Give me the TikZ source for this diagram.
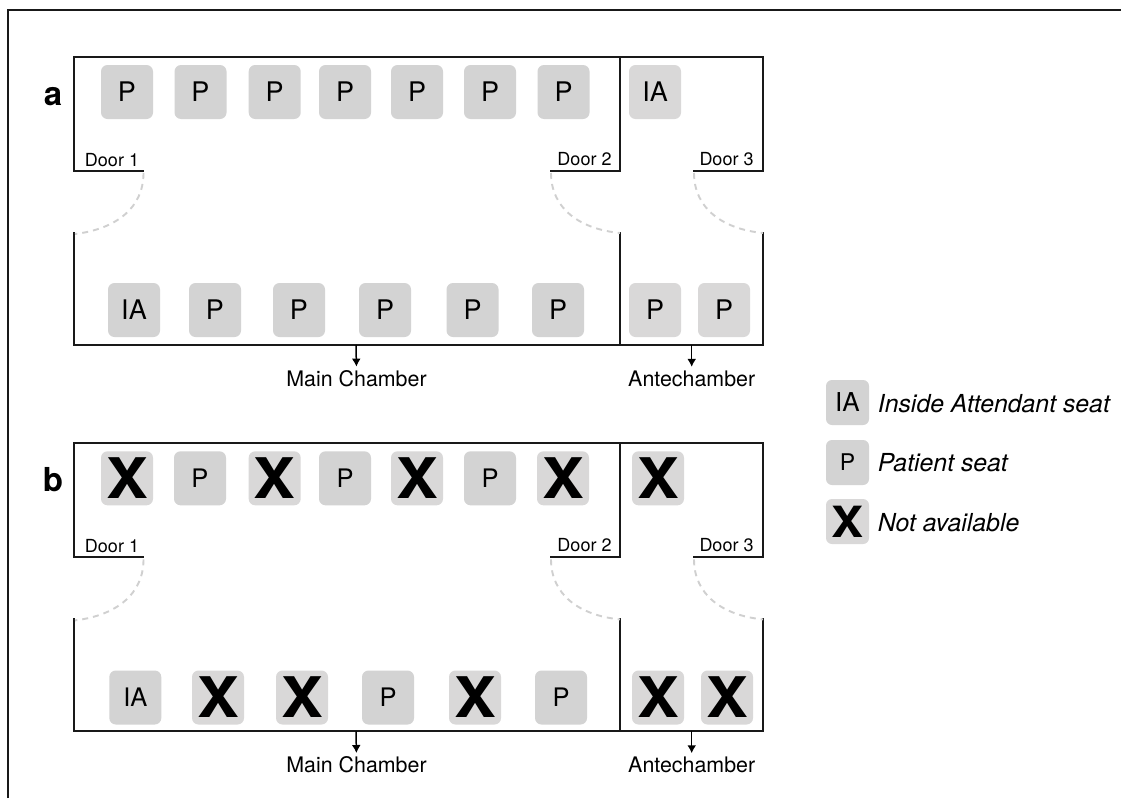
\documentclass[tikz,border=0pt]{standalone}
\usepackage{fontspec}
\setmainfont{TeX Gyre Heros}
\newfontfamily\xmarkfont[FakeStretch=1.12]{TeX Gyre Heros}
\usetikzlibrary{arrows.meta}
\definecolor{seatdark}{HTML}{D3D3D3}
\definecolor{seatlight}{HTML}{D9D8D8}
\definecolor{doorgray}{HTML}{D0D0D0}
\tikzset{
  seat/.style={fill=seatdark,rounded corners=6.5pt,minimum width=52pt,minimum height=54pt,inner sep=0pt,font=\fontsize{25.5}{25.5}\selectfont},
  seata/.style={seat,font=\fontsize{27}{27}\selectfont},
  seatl/.style={seata,fill=seatlight},
  xseat/.style={seat,fill=seatlight,font=\fontsize{56}{56}\selectfont\xmarkfont\bfseries},
  legendbox/.style={seat,minimum width=43pt,minimum height=45pt,rounded corners=6pt},
  legendtext/.style={anchor=west,inner sep=0pt,font=\fontsize{24.8}{24.8}\selectfont\itshape},
  wall/.style={line width=1.9pt,black!90,line cap=rect,line join=miter},
  doorarc/.style={line width=1.9pt,doorgray,dash pattern=on 6pt off 5pt},
  doorlabel/.style={anchor=base,inner sep=0pt,font=\fontsize{18}{18}\selectfont},
  chamberlabel/.style={inner sep=0pt,font=\fontsize{21.4}{21.4}\selectfont},
  panellabel/.style={anchor=base,inner sep=0pt,font=\fontsize{33}{33}\selectfont\bfseries},
  pointer/.style={line width=1.5pt,-{Latex[length=8pt,width=9pt]},shorten >=3.5pt}
}
\newcommand{\chamberwalls}[1]{%
  \draw[wall] (143.5,171) -- (74,171) -- (74,57) -- (763,57) -- (763,171) -- (694,171);
  \draw[wall] (551,171) -- (620,171) -- (620,57);
  \draw[wall] (74,233) -- (74,345) -- (763,345) -- (763,233);
  \draw[wall] (620,233) -- (620,345);
  \draw[doorarc] (143.5,173) .. controls (143.5,208) and (116,229) .. (75,234);
  \draw[doorarc] (551,173) .. controls (551,208) and (579,229) .. (620,233);
  \draw[doorarc] (694,173) .. controls (694,208) and (722,229) .. (763,233);
  \node[doorlabel] (#1d1) at (112,166.5) {Door 1};
  \node[doorlabel] (#1d2) at (584.5,165.5) {Door 2};
  \node[doorlabel] (#1d3) at (726.5,165) {Door 3};
  \coordinate (#1mw) at (356,345);
  \coordinate (#1aw) at (691.7,345);
  \node[chamberlabel] (#1mt) at (356.5,378.5) {Main Chamber};
  \node[chamberlabel] (#1at) at (691.7,378.5) {Antechamber};
  \draw[pointer] (#1mw) -- (#1mt.north);
  \draw[pointer] (#1aw) -- (#1at.north);
}
\begin{document}
\begin{tikzpicture}[x=1pt,y=-1pt]
\useasboundingbox (0,0) rectangle (1121,798);
\fill[white] (0,0) rectangle (1121,798);
\coordinate (frameA) at (8.3,798);
\coordinate (frameB) at (8.3,10);
\coordinate (frameC) at (1121,10);
\draw[line width=2pt,black!90] (frameA) -- (frameB) -- (frameC);

% panel a
\chamberwalls{a}
\node[panellabel] (la) at (53,105) {a};
\foreach \n/\x in {1/127,2/200.5,3/274.7,4/345,5/417,6/490,7/563.5}
  \node[seata] (at\n) at (\x,92) {P};
\node[seatl] (at8) at (655,92) {IA};
\node[seata] (ab1) at (134,310) {IA};
\foreach \n/\x in {2/215,3/299,4/385,5/472.5,6/558}
  \node[seata] (ab\n) at (\x,310) {P};
\node[seatl] (ab7) at (655,310) {P};
\node[seatl] (ab8) at (724,310) {P};

% panel b
\begin{scope}[shift={(0,386.4)}]
\chamberwalls{b}
\end{scope}
\node[panellabel] (lb) at (53,491) {b};
\node[xseat] (bt1) at (127,478.3) {X};
\node[seat] (bt2) at (200,478.3) {P};
\node[xseat] (bt3) at (274.7,478.3) {X};
\node[seat] (bt4) at (345,478.3) {P};
\node[xseat] (bt5) at (417,478.3) {X};
\node[seat] (bt6) at (490,478.3) {P};
\node[xseat] (bt7) at (563,478.3) {X};
\node[xseat] (bt8) at (658,478.3) {X};
\node[seat] (bb1) at (135.3,697.5) {IA};
\node[xseat] (bb2) at (218,697.5) {X};
\node[xseat] (bb3) at (302,697.5) {X};
\node[seat] (bb4) at (388,697.5) {P};
\node[xseat] (bb5) at (475,697.5) {X};
\node[seat] (bb6) at (561,697.5) {P};
\node[xseat] (bb7) at (658,697.5) {X};
\node[xseat] (bb8) at (727,697.5) {X};

% legend
\node[legendbox,font=\fontsize{26}{26}\selectfont] (k1) at (847.5,402.5) {IA};
\node[legendbox,font=\fontsize{23}{23}\selectfont] (k2) at (847.5,462.5) {P};
\node[legendbox,fill=seatlight,font=\fontsize{43}{43}\selectfont\xmarkfont\bfseries] (k3) at (847.5,521.5) {X};
\node[legendtext] (t1) at (877.7,404) {Inside Attendant seat};
\node[legendtext] (t2) at (877.7,463) {Patient seat};
\node[legendtext] (t3) at (877.7,523) {Not available};
\end{tikzpicture}
\end{document}
